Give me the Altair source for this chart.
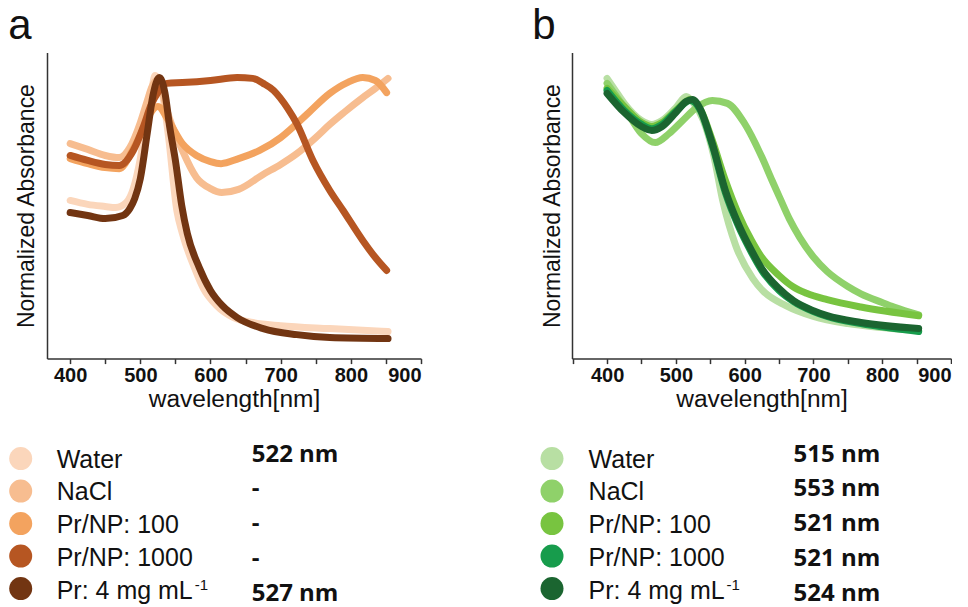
import altair as alt
import pandas as pd

# ---------------- data ----------------
KEYS = ["Water", "NaCl", "Pr/NP: 100", "Pr/NP: 1000", "Pr: 4 mg mL"]
SUPERSCRIPT = "-1"

# panel a (normalized absorbance vs wavelength, nm)
A_WATER_NM = [400, 425, 450, 465, 480, 490, 500, 510, 517, 521, 530, 540, 552, 560, 577, 590, 609, 633, 660, 700, 770, 853]
A_WATER_ABS = [0.525, 0.510, 0.502, 0.498, 0.517, 0.570, 0.684, 0.859, 0.958, 1.000, 0.951, 0.772, 0.487, 0.399, 0.270,
               0.190, 0.125, 0.080, 0.061, 0.049, 0.038, 0.027]
A_NACL_NM = [400, 425, 450, 470, 485, 500, 510, 516, 523, 530, 538, 560, 580, 600, 616, 640, 675, 700, 723, 750, 770, 790,
             817, 835, 853]
A_NACL_ABS = [0.741, 0.719, 0.696, 0.688, 0.726, 0.821, 0.905, 0.954, 0.981, 0.951, 0.867, 0.715, 0.612, 0.570, 0.555,
              0.567, 0.624, 0.662, 0.703, 0.764, 0.814, 0.859, 0.916, 0.951, 0.989]
A_P100_NM = [400, 425, 450, 470, 490, 505, 515, 525, 540, 560, 580, 600, 615, 640, 670, 700, 723, 740, 770, 795, 817, 835, 851]
A_P100_ABS = [0.684, 0.665, 0.650, 0.646, 0.722, 0.802, 0.859, 0.882, 0.829, 0.741, 0.696, 0.673, 0.665, 0.684, 0.715,
              0.764, 0.817, 0.859, 0.932, 0.973, 0.992, 0.981, 0.935]
A_P1000_NM = [400, 425, 450, 470, 490, 505, 515, 525, 538, 560, 600, 638, 660, 675, 690, 699, 710, 723, 746, 770, 789, 817,
              835, 851]
A_P1000_ABS = [0.696, 0.677, 0.662, 0.658, 0.715, 0.810, 0.886, 0.935, 0.970, 0.973, 0.981, 0.992, 0.989, 0.970, 0.943,
               0.916, 0.875, 0.817, 0.677, 0.563, 0.487, 0.373, 0.308, 0.259]
A_PR_NM = [400, 425, 450, 475, 485, 492, 500, 510, 518, 527, 535, 542, 550, 559, 567, 584, 600, 617, 638, 675, 723, 770, 853]
A_PR_ABS = [0.479, 0.468, 0.456, 0.468, 0.494, 0.532, 0.608, 0.783, 0.924, 0.992, 0.935, 0.802, 0.677, 0.506, 0.399,
            0.270, 0.183, 0.125, 0.080, 0.038, 0.015, 0.004, 0.000]

# panel b
B_WATER_NM = [400, 410, 425, 450, 465, 480, 500, 515, 525, 540, 555, 568, 587, 612, 626, 660, 700, 750, 800, 853]
B_WATER_ABS = [0.989, 0.951, 0.894, 0.829, 0.814, 0.829, 0.878, 0.920, 0.897, 0.829, 0.696, 0.526, 0.354, 0.228, 0.183,
               0.125, 0.084, 0.057, 0.042, 0.030]
B_NACL_NM = [400, 425, 450, 470, 490, 510, 530, 553, 575, 600, 625, 640, 652, 665, 680, 700, 720, 750, 769, 800, 817, 853]
B_NACL_ABS = [0.970, 0.878, 0.779, 0.745, 0.779, 0.829, 0.878, 0.905, 0.894, 0.817, 0.690, 0.600, 0.530, 0.455, 0.385,
              0.310, 0.255, 0.198, 0.170, 0.137, 0.120, 0.090]
B_P100_NM = [400, 425, 450, 465, 480, 500, 521, 535, 553, 572, 590, 610, 623, 650, 671, 690, 720, 769, 853]
B_P100_ABS = [0.951, 0.882, 0.821, 0.806, 0.821, 0.867, 0.909, 0.875, 0.753, 0.601, 0.479, 0.373, 0.316, 0.240, 0.196,
              0.172, 0.148, 0.120, 0.087]
B_P1000_NM = [400, 425, 450, 465, 480, 500, 521, 535, 553, 572, 590, 610, 625, 650, 671, 700, 720, 769, 853]
B_P1000_ABS = [0.943, 0.867, 0.814, 0.798, 0.814, 0.863, 0.905, 0.871, 0.734, 0.555, 0.433, 0.327, 0.259, 0.183, 0.141,
               0.103, 0.084, 0.057, 0.027]
B_PR_NM = [400, 425, 450, 465, 480, 500, 515, 524, 535, 553, 572, 590, 610, 625, 650, 671, 700, 720, 769, 853]
B_PR_ABS = [0.932, 0.859, 0.806, 0.791, 0.806, 0.859, 0.901, 0.909, 0.875, 0.741, 0.563, 0.441, 0.335, 0.266, 0.190,
            0.144, 0.106, 0.087, 0.061, 0.038]

A_PEAKS = ["522 nm", "-", "-", "-", "527 nm"]
B_PEAKS = ["515 nm", "553 nm", "521 nm", "521 nm", "524 nm"]
A_TICKS = [400, 450, 500, 550, 600, 650, 700, 750, 800, 850, 900]
B_TICKS = [350, 400, 450, 500, 550, 600, 650, 700, 750, 800, 850, 900]
A_XDOMAIN = [367, 900]
B_XDOMAIN = [349, 900]
Y_DOMAIN = [-0.076, 1.087]

A_COLORS = ["#fbd6bb", "#f7bd90", "#f3a35f", "#b65622", "#723512"]
B_COLORS = ["#b8dfa3", "#8fd16a", "#78c440", "#179c4c", "#1b6530"]


def curves(nms, abss):
    rows = []
    for key, nm, ab in zip(KEYS, nms, abss):
        for x, y in zip(nm, ab):
            rows.append({"series": key, "wavelength": x, "absorbance": y})
    return pd.DataFrame(rows)


H = 306


def panel(df, colors, peaks, xdom, ticks, width, letter, lay):
    color = alt.Color("series:N", scale=alt.Scale(domain=KEYS, range=colors), legend=None)
    lines = alt.Chart(df).mark_line(
        strokeWidth=7, strokeCap="round", strokeJoin="round", interpolate="monotone"
    ).encode(
        x=alt.X("wavelength:Q", title="wavelength[nm]",
                scale=alt.Scale(domain=xdom, nice=False, zero=False),
                axis=alt.Axis(values=ticks, labelExpr="datum.value % 100 === 0 ? datum.label : ''",
                              grid=False)),
        y=alt.Y("absorbance:Q", title="Normalized Absorbance",
                scale=alt.Scale(domain=Y_DOMAIN, nice=False, zero=False),
                axis=alt.Axis(labels=False, ticks=False, grid=False, titlePadding=lay["ytp"],
                              minExtent=0)),
        color=color,
    )
    leg = pd.DataFrame({"series": KEYS, "peak": peaks})

    def yscale(r):
        return alt.Y("series:N", scale=alt.Scale(type="point", domain=KEYS, range=r, padding=0), axis=None)

    sym = alt.Chart(leg).mark_circle(size=530, opacity=1).encode(
        x=alt.value(lay["cx"]), y=yscale([406, 536]), color=color
    )
    lab = alt.Chart(leg).mark_text(
        align="left", baseline="alphabetic", font="Liberation Sans", fontSize=25, color="#111"
    ).encode(x=alt.value(lay["lx"]), y=yscale([415, 546]), text="series:N")
    sup = alt.Chart(pd.DataFrame({"series": [KEYS[-1]], "sup": [SUPERSCRIPT]})).mark_text(
        align="left", baseline="alphabetic", font="Liberation Sans", fontSize=15, color="#111", dy=-9
    ).encode(x=alt.value(lay["lx"] + 138), y=yscale([415, 546]), text="sup:N")
    val = alt.Chart(leg).mark_text(
        align="left", baseline="alphabetic", font="Open Sans", fontWeight="bold", fontSize=24, color="#111"
    ).encode(x=alt.value(lay["vx"]), y=yscale([409, 548.5]), text="peak:N")
    let = alt.Chart(pd.DataFrame({"t": [letter]})).mark_text(
        align="left", baseline="alphabetic", font="Liberation Sans", fontSize=42, color="#111"
    ).encode(x=alt.value(lay["ax"]), y=alt.value(-14), text="t:N")
    return alt.layer(lines, sym, lab, sup, val, let).resolve_scale(y="independent").properties(
        width=width, height=H
    )


pa = panel(curves([A_WATER_NM, A_NACL_NM, A_P100_NM, A_P1000_NM, A_PR_NM],
                  [A_WATER_ABS, A_NACL_ABS, A_P100_ABS, A_P1000_ABS, A_PR_ABS]),
           A_COLORS, A_PEAKS, A_XDOMAIN, A_TICKS, 374, "a",
           {"ytp": 9, "cx": -26.3, "lx": 9.7, "vx": 204.7, "ax": -38.7})
pb = panel(curves([B_WATER_NM, B_NACL_NM, B_P100_NM, B_P1000_NM, B_PR_NM],
                  [B_WATER_ABS, B_NACL_ABS, B_P100_ABS, B_P1000_ABS, B_PR_ABS]),
           B_COLORS, B_PEAKS, B_XDOMAIN, B_TICKS, 379, "b",
           {"ytp": 7, "cx": -20, "lx": 16.6, "vx": 221.6, "ax": -39.7})

chart = alt.hconcat(pa, pb, spacing=151, bounds="flush").resolve_scale(color="independent").properties(
    padding={"left": 8, "top": 4.6, "right": 0, "bottom": 4}
).configure_view(stroke=None).configure_axis(
    domainColor="#333", domainWidth=1.5, tickColor="#333", tickWidth=1.5, tickSize=5,
    labelFont="Liberation Sans", labelFontWeight="bold", labelFontSize=20, labelColor="#111",
    labelPadding=2, titleFont="Liberation Sans", titleFontWeight="normal", titleColor="#111",
).configure_axisX(titleFontSize=24.5, titlePadding=2).configure_axisY(titleFontSize=23)

chart.save("out.html", embed_options={"renderer": "svg", "actions": False})
